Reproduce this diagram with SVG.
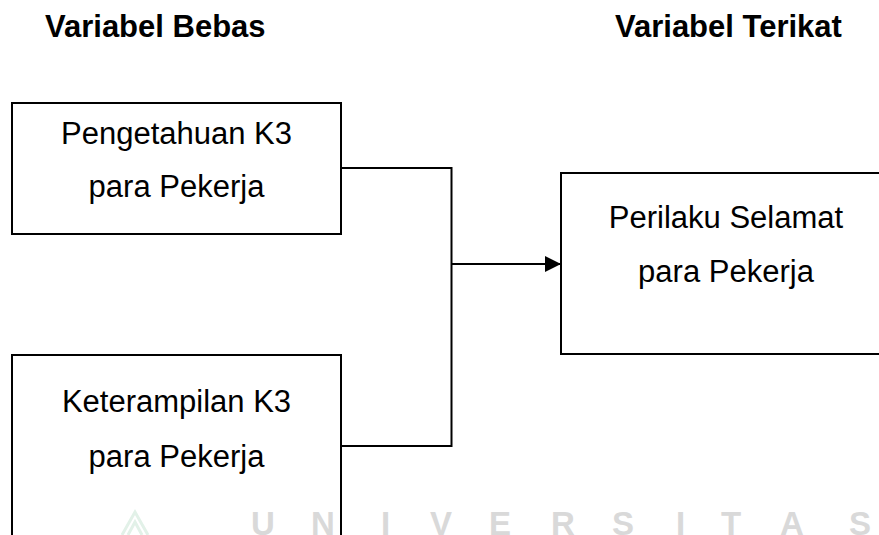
<svg xmlns="http://www.w3.org/2000/svg" width="879" height="535" viewBox="0 0 879 535">
<style>
.box{fill:#fff;stroke:#000;stroke-width:2}
.t{font-family:"Liberation Sans",Arial,sans-serif;font-size:31px;fill:#000;text-anchor:middle}
.h{font-family:"Liberation Sans",Arial,sans-serif;font-size:31px;font-weight:bold;fill:#000}
.w{font-family:"Liberation Sans",Arial,sans-serif;font-size:33px;font-weight:bold;fill:#d9d9d9}
.c{fill:none;stroke:#000;stroke-width:2}
</style>
<defs>
<marker id="arr" markerUnits="userSpaceOnUse" markerWidth="17" markerHeight="16" refX="16" refY="8" orient="auto">
<path d="M0,0 L16,8 L0,16 Z" fill="#000"/>
</marker>
</defs>
<rect width="879" height="535" fill="#fff"/>
<g id="headers">
<text class="h" x="45" y="37">Variabel Bebas</text>
<text class="h" x="615" y="37">Variabel Terikat</text>
</g>
<g id="node-pengetahuan">
<rect class="box" x="12" y="103" width="329" height="131"/>
<text class="t" x="176.5" y="144">Pengetahuan K3</text>
<text class="t" x="176.5" y="197">para Pekerja</text>
</g>
<g id="node-keterampilan">
<rect class="box" x="12" y="355" width="329" height="220"/>
<text class="t" x="176.5" y="412">Keterampilan K3</text>
<text class="t" x="176.5" y="467">para Pekerja</text>
</g>
<g id="node-perilaku">
<rect class="box" x="561" y="173" width="340" height="181"/>
<text class="t" x="726" y="228">Perilaku Selamat</text>
<text class="t" x="726" y="282">para Pekerja</text>
</g>
<g id="connectors">
<polyline class="c" points="341,168 451.5,168 451.5,446 341,446"/>
<line class="c" x1="451.5" y1="264" x2="561" y2="264" marker-end="url(#arr)"/>
</g>
<g id="watermark">
<path d="M122,535 L135,512 L148,535 M128,535 L135,522 L142,535" fill="none" stroke="#e2f1e8" stroke-width="3"/>
<text class="w" x="251" y="535">U</text>
<text class="w" x="311" y="535">N</text>
<text class="w" x="381" y="535">I</text>
<text class="w" x="430" y="535">V</text>
<text class="w" x="489" y="535">E</text>
<text class="w" x="551" y="535">R</text>
<text class="w" x="612" y="535">S</text>
<text class="w" x="676" y="535">I</text>
<text class="w" x="721" y="535">T</text>
<text class="w" x="780" y="535">A</text>
<text class="w" x="849" y="535">S</text>
</g>
</svg>
